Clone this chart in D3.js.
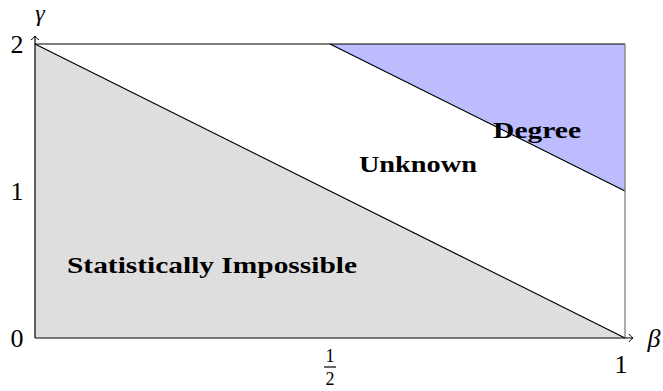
<!DOCTYPE html>
<html><head><meta charset="utf-8">
<script src="https://cdn.jsdelivr.net/npm/d3@7"></script>
<style>body{margin:0;background:#fff}svg{display:block}</style>
</head><body>
<svg id="c" width="663" height="391"></svg>
<script>
const xTicks=[0,0.5,1];
const yTicks=[0,1,2];
const impossible=[[0,0],[0,2],[1,0]];
const degree=[[0.5,2],[1,2],[1,1]];
const regionLabels=[{text:"Degree",x:0.851,y:1.36,w:88},{text:"Unknown",x:0.649,y:1.129,w:118},{text:"Statistically Impossible",x:0.3,y:0.442,w:290}];

const svg=d3.select("#c");
const x=d3.scaleLinear().domain([0,1]).range([35,625]);
const y=d3.scaleLinear().domain([0,2]).range([338,44]);
const line=d3.line().x(d=>x(d[0])).y(d=>y(d[1]));

svg.append("path").attr("d",line(impossible)+"Z").attr("fill","#dedede").attr("stroke","none");
svg.append("path").attr("d",line(degree)+"Z").attr("fill","#bcbcff").attr("stroke","none");
svg.append("path").attr("d",line([impossible[1],impossible[2]])).attr("stroke","#000").attr("stroke-width",1.2).attr("fill","none");
svg.append("path").attr("d",line([degree[0],degree[2]])).attr("stroke","#000").attr("stroke-width",1.2).attr("fill","none");
svg.append("path").attr("d",line([[0,2],[1,2]])).attr("stroke","#000").attr("stroke-width",1.2);
svg.append("path").attr("d",line([[1,2],[1,0]])).attr("stroke","#777").attr("stroke-width",1.2);

const ax=svg.append("g");
ax.append("line").attr("x1",x(0)).attr("y1",y(0)).attr("x2",x(1)+8).attr("y2",y(0)).attr("stroke","#000").attr("stroke-width",1.2);
ax.append("line").attr("x1",x(0)).attr("y1",y(0)).attr("x2",x(0)).attr("y2",y(2)-8).attr("stroke","#000").attr("stroke-width",1.2);
ax.append("path").attr("d",`M${x(1)+4},${y(0)-4}Q${x(1)+6},${y(0)-1} ${x(1)+8},${y(0)}Q${x(1)+6},${y(0)+1} ${x(1)+4},${y(0)+4}`).attr("fill","none").attr("stroke","#000").attr("stroke-width",1);
ax.append("path").attr("d",`M${x(0)-4},${y(2)-4}Q${x(0)-1},${y(2)-6} ${x(0)},${y(2)-8}Q${x(0)+1},${y(2)-6} ${x(0)+4},${y(2)-4}`).attr("fill","none").attr("stroke","#000").attr("stroke-width",1);

const F="Liberation Serif";
svg.selectAll(".yt").data(yTicks).join("text").attr("x",17).attr("y",d=>y(d)+9).attr("text-anchor","middle")
  .attr("font-family",F).attr("font-size",26).text(d=>d);
xTicks.filter(d=>d!==0).forEach(d=>{
  if(d===0.5){
    const g=svg.append("g").attr("transform",`translate(${x(d)},0)`);
    g.append("text").attr("x",0).attr("y",362).attr("text-anchor","middle").attr("font-family",F).attr("font-size",18).text("1");
    g.append("line").attr("x1",-6).attr("x2",6).attr("y1",367).attr("y2",367).attr("stroke","#000").attr("stroke-width",1.2);
    g.append("text").attr("x",0).attr("y",385).attr("text-anchor","middle").attr("font-family",F).attr("font-size",18).text("2");
  } else {
    svg.append("text").attr("x",x(d)-4).attr("y",373).attr("text-anchor","middle").attr("font-family",F).attr("font-size",26).text(d);
  }
});
svg.append("text").attr("x",40).attr("y",21).attr("text-anchor","middle").attr("font-family",F).attr("font-style","italic").attr("font-size",24).text("γ");
svg.append("text").attr("x",654).attr("y",347).attr("text-anchor","middle").attr("font-family",F).attr("font-style","italic").attr("font-size",26).text("β");

svg.selectAll(".rl").data(regionLabels).join("text").attr("x",d=>x(d.x)-d.w/2).attr("y",d=>y(d.y))
  .attr("textLength",d=>d.w).attr("lengthAdjust","spacingAndGlyphs")
  .attr("font-family",F).attr("font-weight","bold").attr("font-size",24).text(d=>d.text);
</script>
</body></html>
